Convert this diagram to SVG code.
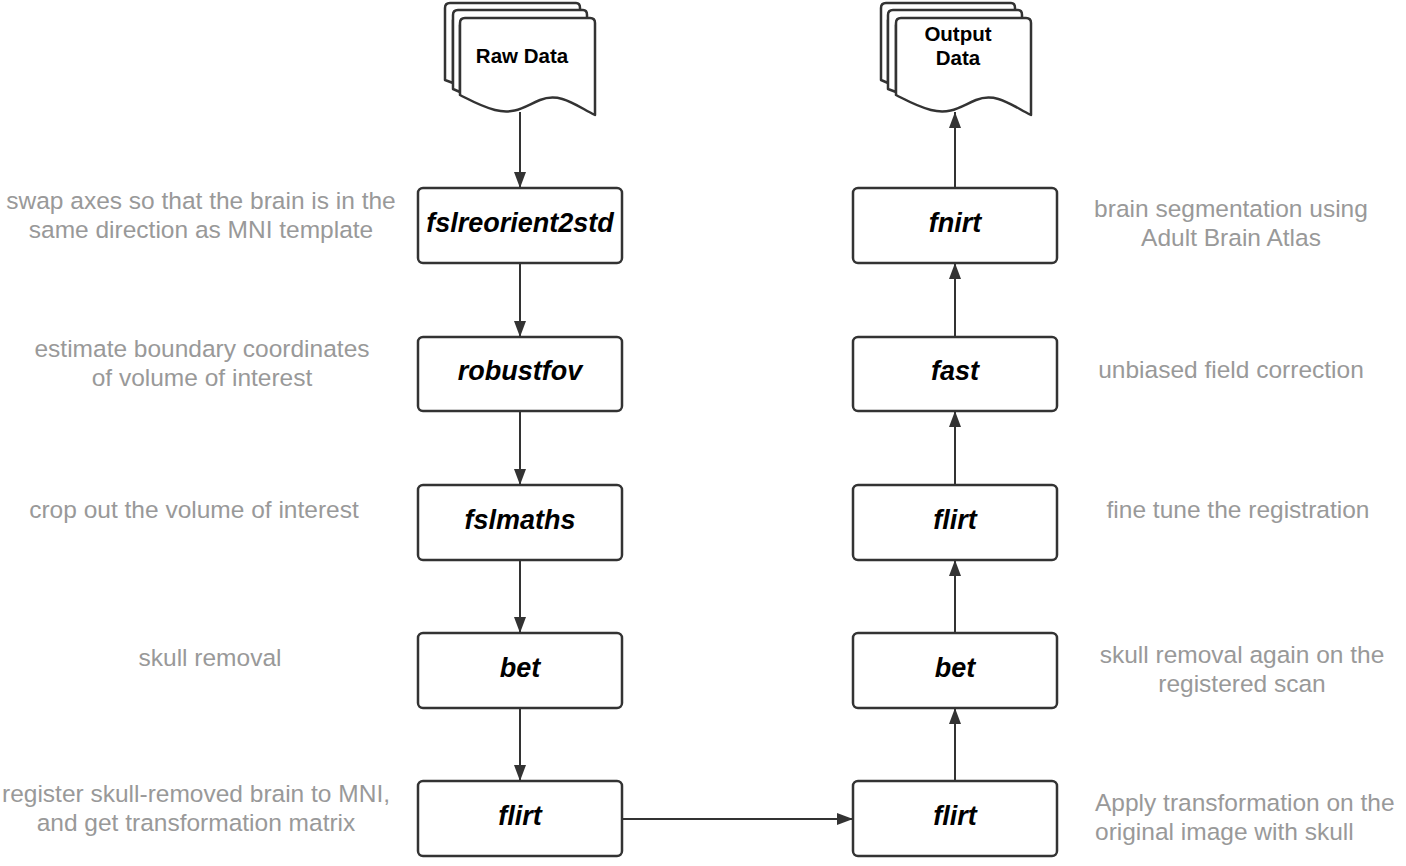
<svg xmlns="http://www.w3.org/2000/svg" width="1406" height="866" viewBox="0 0 1406 866">
<style>
.box{fill:#fff;stroke:#333;stroke-width:2.5}
.doc{fill:#fff;stroke:#333;stroke-width:2.5;stroke-linejoin:round}
.lbl{font-family:"Liberation Sans",Arial,sans-serif;font-weight:bold;font-style:italic;font-size:27px;fill:#000;text-anchor:middle}
.dlbl{font-family:"Liberation Sans",Arial,sans-serif;font-weight:bold;font-size:20.5px;fill:#000;text-anchor:middle}
.note{font-family:"Liberation Sans",Arial,sans-serif;font-size:24.5px;fill:#999}
.mid{text-anchor:middle}
.con{stroke:#333;stroke-width:2;fill:none;marker-end:url(#ah)}
</style>
<defs>
<marker id="ah" viewBox="0 0 16 12" refX="16" refY="6" markerWidth="16" markerHeight="12" orient="auto" markerUnits="userSpaceOnUse">
<path d="M0,0 L16,6 L0,12 Z" fill="#333"/>
</marker>
</defs>
<rect width="1406" height="866" fill="#fff"/>

<g id="raw-data">
<path class="doc" d="M445,8 Q445,3 450,3 L576,3 Q580,3 580,8 L580,20 L453,20 L453,83 L445,80 Z"/>
<path class="doc" d="M453,15 Q453,10 458,10 L583,10 Q587,10 587,15 L587,25 L460,25 L460,92 L453,89 Z"/>
<path class="doc" d="M460,23 Q460,18 465,18 L590,18 Q595,18 595,23 L595,115 C575,105 560,92 540,100 C525,106 515,115 495,110 C480,106 470,100 460,95 Z"/>
<text class="dlbl" x="522" y="63">Raw Data</text>
</g>

<g id="output-data">
<path class="doc" d="M881,8 Q881,3 886,3 L1011,3 Q1015,3 1015,8 L1015,20 L888,20 L888,83 L881,80 Z"/>
<path class="doc" d="M888,15 Q888,10 893,10 L1018,10 Q1022,10 1022,15 L1022,25 L896,25 L896,92 L888,89 Z"/>
<path class="doc" d="M896,23 Q896,18 901,18 L1026,18 Q1031,18 1031,23 L1031,115 C1011,105 996,92 976,100 C961,106 951,115 931,110 C916,106 906,100 896,95 Z"/>
<text class="dlbl" x="958" y="41">Output</text>
<text class="dlbl" x="958" y="65">Data</text>
</g>

<g id="n-fslreorient2std"><rect class="box" x="418" y="188" width="204" height="75" rx="5"/><text class="lbl" x="520" y="232">fslreorient2std</text></g>
<g id="n-robustfov"><rect class="box" x="418" y="337" width="204" height="74" rx="5"/><text class="lbl" x="520" y="380">robustfov</text></g>
<g id="n-fslmaths"><rect class="box" x="418" y="485" width="204" height="75" rx="5"/><text class="lbl" x="520" y="529">fslmaths</text></g>
<g id="n-bet-left"><rect class="box" x="418" y="633" width="204" height="75" rx="5"/><text class="lbl" x="520" y="677">bet</text></g>
<g id="n-flirt-left"><rect class="box" x="418" y="781" width="204" height="75" rx="5"/><text class="lbl" x="520" y="825">flirt</text></g>

<g id="n-fnirt"><rect class="box" x="853" y="188" width="204" height="75" rx="5"/><text class="lbl" x="955" y="232">fnirt</text></g>
<g id="n-fast"><rect class="box" x="853" y="337" width="204" height="74" rx="5"/><text class="lbl" x="955" y="380">fast</text></g>
<g id="n-flirt-right-top"><rect class="box" x="853" y="485" width="204" height="75" rx="5"/><text class="lbl" x="955" y="529">flirt</text></g>
<g id="n-bet-right"><rect class="box" x="853" y="633" width="204" height="75" rx="5"/><text class="lbl" x="955" y="677">bet</text></g>
<g id="n-flirt-right"><rect class="box" x="853" y="781" width="204" height="75" rx="5"/><text class="lbl" x="955" y="825">flirt</text></g>

<g id="connectors">
<path class="con" d="M520,112 L520,188"/>
<path class="con" d="M520,263 L520,337"/>
<path class="con" d="M520,411 L520,485"/>
<path class="con" d="M520,560 L520,633"/>
<path class="con" d="M520,708 L520,781"/>
<path class="con" d="M622,819 L853,819"/>
<path class="con" d="M955,781 L955,708"/>
<path class="con" d="M955,633 L955,560"/>
<path class="con" d="M955,485 L955,411"/>
<path class="con" d="M955,337 L955,263"/>
<path class="con" d="M955,188 L955,112"/>
</g>

<g id="notes">
<text class="note mid" x="201" y="209">swap axes so that the brain is in the</text>
<text class="note mid" x="201" y="238">same direction as MNI template</text>
<text class="note mid" x="202" y="357">estimate boundary coordinates</text>
<text class="note mid" x="202" y="386">of volume of interest</text>
<text class="note mid" x="194" y="518">crop out the volume of interest</text>
<text class="note mid" x="210" y="666">skull removal</text>
<text class="note mid" x="196" y="802">register skull-removed brain to MNI,</text>
<text class="note mid" x="196" y="831">and get transformation matrix</text>
<text class="note mid" x="1231" y="217">brain segmentation using</text>
<text class="note mid" x="1231" y="246">Adult Brain Atlas</text>
<text class="note mid" x="1231" y="378">unbiased field correction</text>
<text class="note mid" x="1238" y="518">fine tune the registration</text>
<text class="note mid" x="1242" y="663">skull removal again on the</text>
<text class="note mid" x="1242" y="692">registered scan</text>
<text class="note" x="1095" y="811">Apply transformation on the</text>
<text class="note" x="1095" y="840">original image with skull</text>
</g>
</svg>
